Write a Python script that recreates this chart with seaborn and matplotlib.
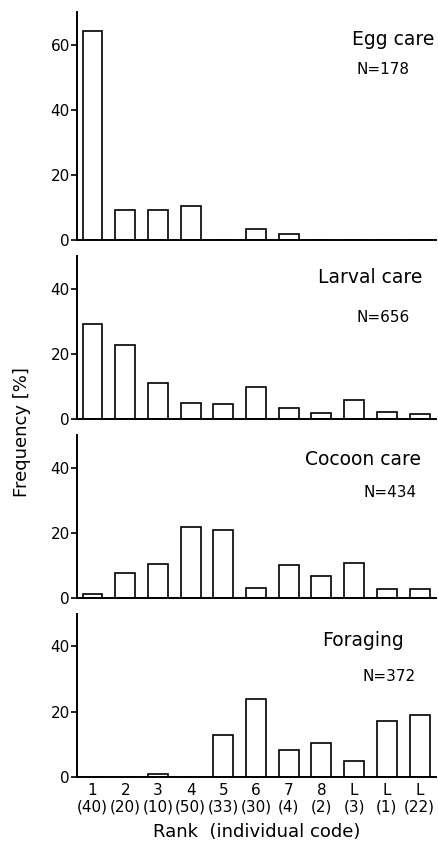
import numpy as np
import pandas as pd
import seaborn as sns
import matplotlib.pyplot as plt

# rank / individual code categories
ranks = ["1", "2", "3", "4", "5", "6", "7", "8", "L", "L", "L"]
codes = ["(40)", "(20)", "(10)", "(50)", "(33)", "(30)", "(4)", "(2)", "(3)", "(1)", "(22)"]
labels = [r + "\n" + c for r, c in zip(ranks, codes)]

tasks = ["Egg care", "Larval care", "Cocoon care", "Foraging"]
n_obs = [178, 656, 434, 372]

egg_care = [64.1, 9.4, 9.2, 10.5, 0, 3.6, 2.0, 0, 0, 0, 0]
larval_care = [29.2, 22.6, 11.0, 5.0, 4.8, 9.9, 3.5, 1.9, 5.8, 2.1, 1.5]
cocoon_care = [1.2, 7.6, 10.5, 21.9, 20.8, 3.0, 10.3, 6.9, 10.7, 2.8, 2.8]
foraging = [0, 0, 0.9, 0, 13.0, 24.0, 8.3, 10.3, 4.8, 17.2, 19.1]

series = [egg_care, larval_care, cocoon_care, foraging]
ymax = [70, 50, 50, 50]
yticks = [[0, 20, 40, 60], [0, 20, 40], [0, 20, 40], [0, 20, 40]]

# text placement in axes coords (task name, N)
name_pos = [(0.88, 0.88), (0.816, 0.868), (0.797, 0.848), (0.797, 0.835)]
n_pos = [(0.852, 0.746), (0.852, 0.624), (0.872, 0.646), (0.869, 0.616)]

sns.set_style("ticks")
plt.rcParams['font.family'] = ['DejaVu Sans']
plt.rcParams.update({'text.color': 'black', 'axes.labelcolor': 'black',
                     'xtick.color': 'black', 'ytick.color': 'black',
                     'axes.edgecolor': 'black'})

fig, axes = plt.subplots(4, 1, figsize=(4.39, 8.47), dpi=100,
                         gridspec_kw={'height_ratios': ymax, 'hspace': 0.087})
fig.subplots_adjust(left=0.175, right=0.993, top=0.986, bottom=0.0826)

for i, ax in enumerate(axes):
    df = pd.DataFrame({'rank': labels, 'freq': series[i]})
    sns.barplot(data=df, x='rank', y='freq', order=labels, color='white',
                edgecolor='black', linewidth=1.2, width=0.61, ax=ax,
                saturation=1)
    ax.set_xlim(-0.48, 10.5)
    ax.set_ylim(0, ymax[i])
    ax.set_yticks(yticks[i])
    ax.tick_params(axis='y', length=4, width=1.2, labelsize=11, pad=1)
    ax.tick_params(axis='x', length=0, labelsize=11, pad=4)
    sns.despine(ax=ax)
    ax.spines['left'].set_linewidth(1.4)
    ax.spines['bottom'].set_linewidth(1.4)
    ax.set_ylabel('')
    ax.set_xlabel('')
    if i < 3:
        ax.set_xticklabels([])
    ax.text(name_pos[i][0], name_pos[i][1], tasks[i], transform=ax.transAxes,
            ha='center', va='center', fontsize=13.5)
    ax.text(n_pos[i][0], n_pos[i][1], "N=" + str(n_obs[i]), transform=ax.transAxes,
            ha='center', va='center', fontsize=11)

axes[-1].set_xlabel('Rank  (individual code)', fontsize=13, labelpad=6)
fig.text(0.05, 1 - 432 / 847, 'Frequency [%]', rotation=90, ha='center',
         va='center', fontsize=13)

plt.savefig('out.png', dpi=100)
